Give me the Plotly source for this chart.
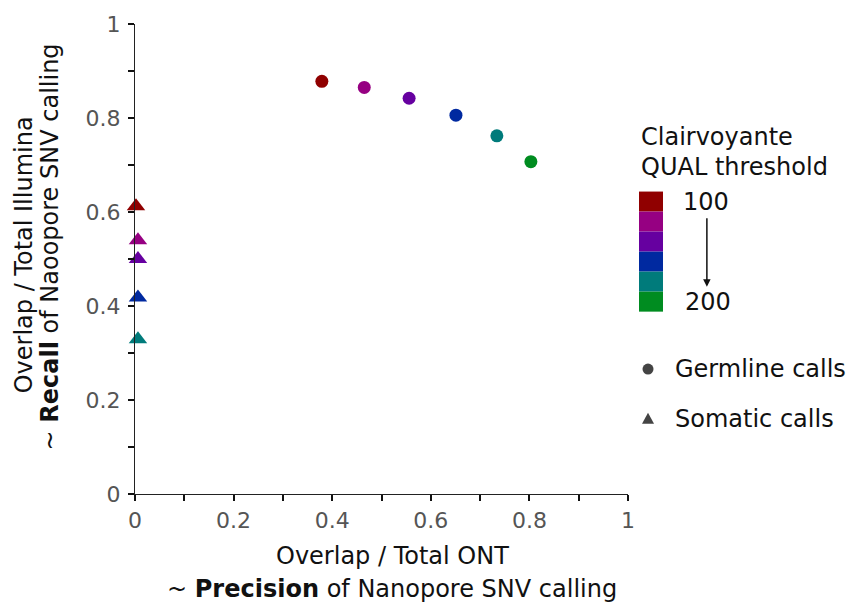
import plotly.graph_objects as go

# QUAL thresholds and their colours (100 -> 200)
thresholds = [100, 120, 140, 160, 180, 200]
colors = ["#900000", "#960082", "#6600a0", "#0029a0", "#007b7b", "#008c20"]

# Germline calls: precision (x) and recall (y) per threshold
germ_precision = [0.379, 0.465, 0.556, 0.651, 0.734, 0.803]
germ_recall = [0.878, 0.865, 0.842, 0.806, 0.762, 0.707]

# Somatic calls: precision (x) and recall (y) per threshold (no point at 200)
som_precision = [0.002, 0.006, 0.006, 0.006, 0.006]
som_recall = [0.612, 0.540, 0.500, 0.418, 0.329]

call_types = ["Germline calls", "Somatic calls"]

tick_vals = [i / 10 for i in range(11)]
tick_text = ["0", "", "0.2", "", "0.4", "", "0.6", "", "0.8", "", "1"]

FONT = "DejaVu Sans"
TXT = dict(family=FONT, size=24, color="#111111")
KEY_GREY = "#444444"

fig = go.Figure()

fig.add_trace(go.Scatter(
    x=germ_precision, y=germ_recall, mode="markers", name=call_types[0],
    marker=dict(symbol="circle", size=13, color=colors[:len(germ_precision)]),
    showlegend=False, hoverinfo="skip", cliponaxis=False,
))
fig.add_trace(go.Scatter(
    x=som_precision, y=som_recall, mode="markers", name=call_types[1],
    marker=dict(symbol="triangle-up", size=16, color=colors[:len(som_precision)]),
    showlegend=False, hoverinfo="skip", cliponaxis=False,
))

axis_common = dict(
    range=[0, 1], showgrid=False, zeroline=False, showline=True,
    linecolor="#222222", linewidth=1.3, ticks="outside", ticklen=6,
    tickwidth=1.5, tickcolor="#111111",
    tickvals=tick_vals, ticktext=tick_text,
    tickfont=dict(family=FONT, size=22, color="#555555"),
    fixedrange=True,
)

fig.update_layout(
    width=849, height=604,
    margin=dict(l=135, r=221, t=20, b=110),
    plot_bgcolor="white", paper_bgcolor="white",
    font=TXT, showlegend=False,
    xaxis=dict(**axis_common),
    yaxis=dict(**axis_common, ticklabelstandoff=3),
)

# colour key for the QUAL thresholds
top, bottom = 0.6435, 0.388
step = (top - bottom) / len(colors)
for i, c in enumerate(colors):
    fig.add_shape(type="rect", xref="paper", yref="paper",
                  x0=1.0223, x1=1.071, y0=top - (i + 1) * step, y1=top - i * step,
                  fillcolor=c, line=dict(width=0))

# key symbols for germline (circle) and somatic (triangle) calls
key_x, key_text_x = 1.0406, 1.0913
key_y = [0.2658, 0.1603]
fig.add_shape(type="circle", xref="paper", yref="paper",
              xsizemode="pixel", ysizemode="pixel",
              xanchor=key_x, yanchor=key_y[0], x0=-5.5, x1=5.5, y0=-5.5, y1=5.5,
              fillcolor=KEY_GREY, line=dict(width=0))
fig.add_shape(type="path", xref="paper", yref="paper",
              xsizemode="pixel", ysizemode="pixel",
              xanchor=key_x, yanchor=key_y[1],
              path="M-6,-5 L6,-5 L0,6 Z",
              fillcolor=KEY_GREY, line=dict(width=0))

ann = []
ann.append(dict(text="Clairvoyante", x=1.0223, y=0.759, xanchor="left", yanchor="middle"))
ann.append(dict(text="QUAL threshold", x=1.0223, y=0.696, xanchor="left", yanchor="middle"))
ann.append(dict(text=str(thresholds[0]), x=1.158, y=0.622, xanchor="center", yanchor="middle"))
ann.append(dict(text=str(thresholds[-1]), x=1.162, y=0.409, xanchor="center", yanchor="middle"))
for name, yy in zip(call_types, key_y):
    ann.append(dict(text=name, x=key_text_x, y=yy, xanchor="left", yanchor="middle"))
# axis titles
ann.append(dict(text="Overlap / Total ONT", x=0.523, y=-0.131, xanchor="center", yanchor="middle"))
ann.append(dict(text="~ <b>Precision</b> of Nanopore SNV calling", x=0.522, y=-0.203,
                xanchor="center", yanchor="middle"))
ann.append(dict(text="Overlap / Total Illumina", x=-0.225, y=0.508, textangle=-90,
                xanchor="center", yanchor="middle"))
ann.append(dict(text="~ <b>Recall</b> of Naoopore SNV calling", x=-0.172, y=0.525, textangle=-90,
                xanchor="center", yanchor="middle"))
for a in ann:
    fig.add_annotation(xref="paper", yref="paper", showarrow=False, font=TXT, **a)

# arrow from 100 down to 200
fig.add_annotation(xref="paper", yref="paper", x=1.160, y=0.441, ax=0, ay=-70,
                   axref="pixel", ayref="pixel", text="", showarrow=True,
                   arrowhead=2, arrowsize=1, arrowwidth=1.5, arrowcolor="#111111")

fig.write_html("out.html")
